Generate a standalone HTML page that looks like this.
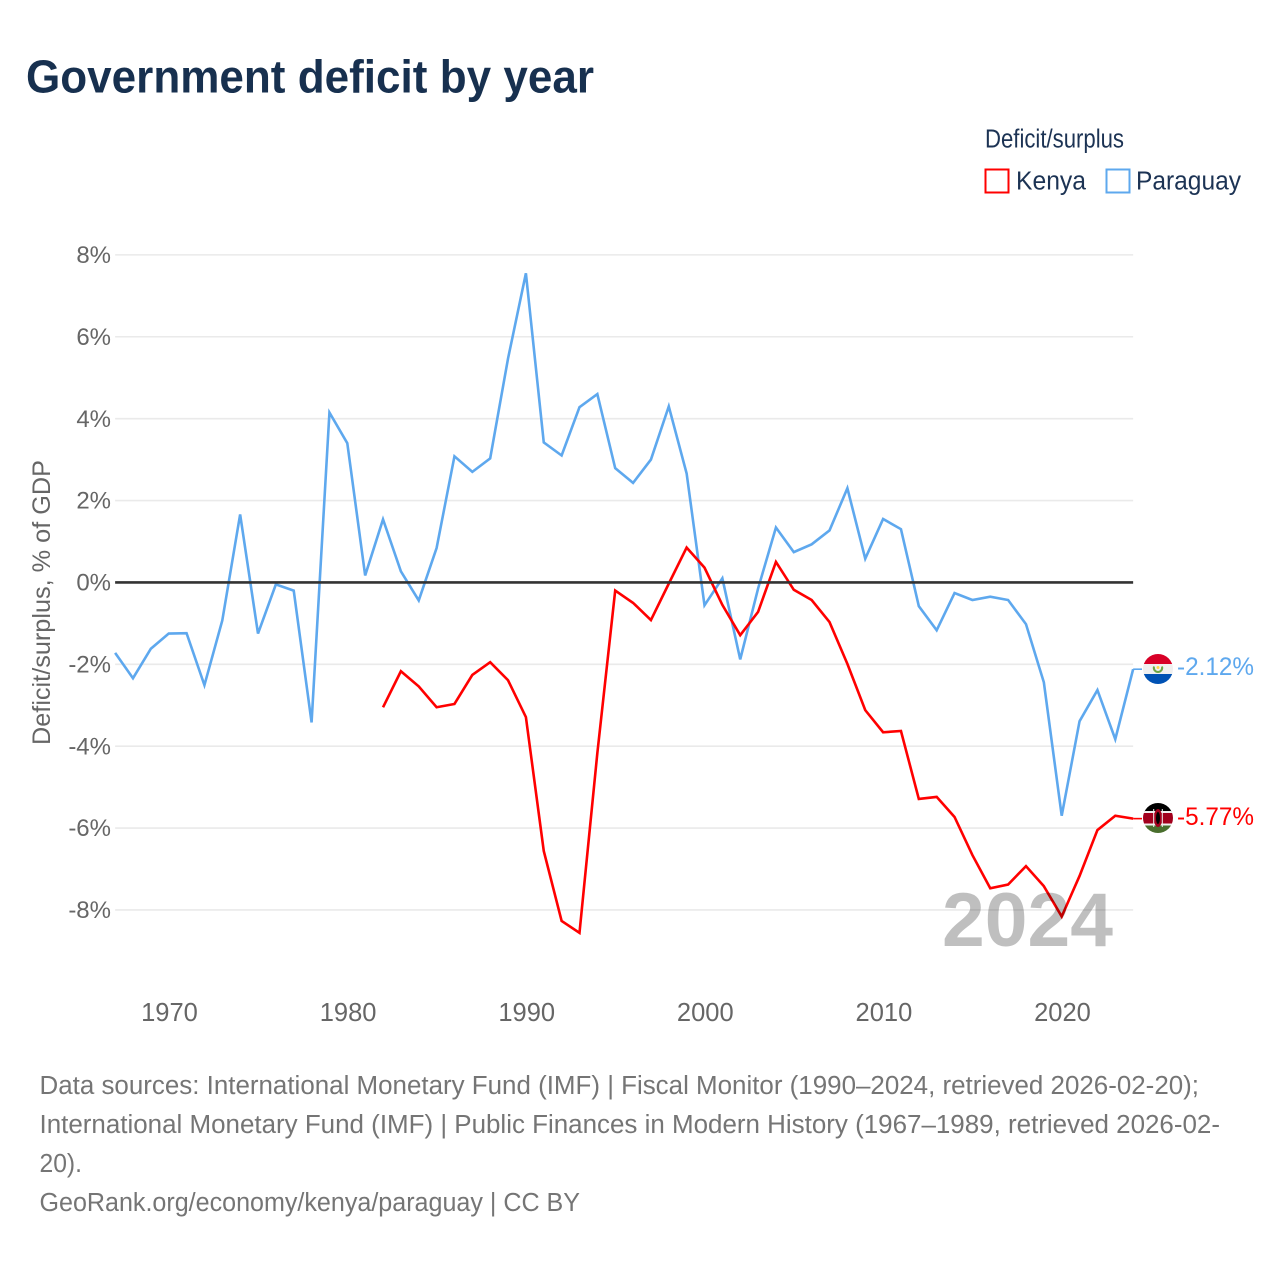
<!DOCTYPE html>
<html lang="en">
<head>
<meta charset="utf-8">
<title>Government deficit by year</title>
<style>
html,body{margin:0;padding:0;background:#fff;}
svg{display:block;font-family:"Liberation Sans",sans-serif;}
</style>
</head>
<body>
<svg id="chart" xmlns="http://www.w3.org/2000/svg" width="1280" height="1280" viewBox="0 0 1280 1280">
  <defs>
    <clipPath id="clip-py"><circle cx="1158" cy="669" r="15"/></clipPath>
    <clipPath id="clip-ke"><circle cx="1158" cy="818" r="15"/></clipPath>
  </defs>
  <rect x="0" y="0" width="1280" height="1280" fill="#fff"/>
  <text x="26" y="92.5" font-size="46" font-weight="700" fill="#17304f" textLength="568" lengthAdjust="spacingAndGlyphs">Government deficit by year</text>

  <g>
    <text x="985" y="147.5" font-size="25.5" fill="#1c3354" textLength="139" lengthAdjust="spacingAndGlyphs">Deficit/surplus</text>
    <g>
      <rect x="985.5" y="169.5" width="23" height="23" fill="none" stroke="#ff0000" stroke-width="2"/>
      <text x="1016" y="189.5" font-size="25.5" fill="#1c3354" textLength="70" lengthAdjust="spacingAndGlyphs">Kenya</text>
    </g>
    <g>
      <rect x="1106.5" y="169.5" width="23" height="23" fill="none" stroke="#5ea8ee" stroke-width="2"/>
      <text x="1136" y="189.5" font-size="25.5" fill="#1c3354" textLength="105" lengthAdjust="spacingAndGlyphs">Paraguay</text>
    </g>
  </g>

  <text transform="translate(50,745) rotate(-90)" x="0" y="0" font-size="25" fill="#666" textLength="285" lengthAdjust="spacingAndGlyphs">Deficit/surplus, % of GDP</text>

  <g id="grid"></g>
  <g id="yticks"></g>
  <g id="xticks"></g>
  <g id="series"></g>
  <g id="zero"></g>

  <text x="942" y="946" font-size="76" font-weight="700" fill="#000" fill-opacity="0.25" textLength="171" lengthAdjust="spacingAndGlyphs">2024</text>

  <g clip-path="url(#clip-py)">
    <rect x="1143" y="654" width="30" height="10" fill="#d80027"/>
    <rect x="1143" y="664" width="30" height="10" fill="#f0f0f0"/>
    <rect x="1143" y="674" width="30" height="10" fill="#0052b4"/>
    <path d="M1154 666.5a4.2 4.2 0 1 0 8 0" fill="none" stroke="#6da544" stroke-width="2"/>
    <circle cx="1158" cy="667.5" r="1.5" fill="#ffda44"/>
  </g>
  <g clip-path="url(#clip-ke)">
    <rect x="1143" y="803" width="30" height="9" fill="#000"/>
    <rect x="1143" y="811" width="30" height="2.2" fill="#f0f0f0"/>
    <rect x="1143" y="813" width="30" height="10.5" fill="#a2001d"/>
    <rect x="1143" y="823.5" width="30" height="2.2" fill="#f0f0f0"/>
    <rect x="1143" y="825.5" width="30" height="8" fill="#496e2d"/>
    <ellipse cx="1158" cy="818" rx="4.2" ry="9" fill="#a2001d"/>
    <ellipse cx="1158" cy="818" rx="2" ry="6" fill="#000"/>
    <rect x="1153.2" y="809" width="1" height="18" fill="#f0f0f0"/>
    <rect x="1161.8" y="809" width="1" height="18" fill="#f0f0f0"/>
  </g>

  <text id="label-py" x="1177" y="675" font-size="25" fill="#5ea8ee" textLength="77" lengthAdjust="spacingAndGlyphs">-2.12%</text>
  <text id="label-ke" x="1177" y="825" font-size="25" fill="#ff0000" textLength="77" lengthAdjust="spacingAndGlyphs">-5.77%</text>

  <g font-size="25.5" fill="#757575">
    <text x="39.5" y="1094" textLength="1159.5" lengthAdjust="spacingAndGlyphs">Data sources: International Monetary Fund (IMF) | Fiscal Monitor (1990–2024, retrieved 2026-02-20);</text>
    <text x="39.5" y="1133" textLength="1180.5" lengthAdjust="spacingAndGlyphs">International Monetary Fund (IMF) | Public Finances in Modern History (1967–1989, retrieved 2026-02-</text>
    <text x="39.5" y="1172" textLength="42.5" lengthAdjust="spacingAndGlyphs">20).</text>
    <text x="39.5" y="1211" textLength="540.5" lengthAdjust="spacingAndGlyphs">GeoRank.org/economy/kenya/paraguay | CC BY</text>
  </g>
</svg>
<script>
const yTicks = [8, 6, 4, 2, 0, -2, -4, -6, -8];
const xTicks = [1970, 1980, 1990, 2000, 2010, 2020];
const paraguayStartYear = 1967;
const paraguayValues = [
  -1.72, -2.34, -1.62, -1.25, -1.24, -2.51, -0.93, 1.66, -1.25, -0.05,
  -0.2, -3.42, 4.15, 3.4, 0.17, 1.54, 0.27, -0.44, 0.84, 3.08,
  2.7, 3.03, 5.47, 7.55, 3.42, 3.1, 4.28, 4.6, 2.79, 2.43,
  3.0, 4.3, 2.66, -0.56, 0.1, -1.88, -0.15, 1.34, 0.74, 0.93,
  1.27, 2.3, 0.58, 1.55, 1.3, -0.58, -1.17, -0.26, -0.43, -0.35,
  -0.43, -1.02, -2.44, -5.7, -3.39, -2.63, -3.83, -2.12
];
const kenyaStartYear = 1982;
const kenyaValues = [
  -3.05, -2.17, -2.54, -3.05, -2.97, -2.26, -1.95, -2.39, -3.29, -6.56,
  -8.27, -8.56, -4.17, -0.2, -0.5, -0.92, -0.03, 0.85, 0.36, -0.55,
  -1.29, -0.72, 0.5, -0.18, -0.43, -0.97, -1.99, -3.12, -3.66, -3.63,
  -5.29, -5.24, -5.73, -6.66, -7.47, -7.38, -6.93, -7.42, -8.16, -7.17,
  -6.05, -5.7, -5.77
];

const NS = 'http://www.w3.org/2000/svg';
function xScale(year) { return 168.7 + (year - 1970) * 17.86; }
function yScale(v) { return 582.4 - v * 40.94; }
function xLabel(year) { return xScale(year) + 0.8; }
const plotLeft = xScale(1967);
const plotRight = xScale(2024);

function pathFor(startYear, values) {
  return values.map(function (v, i) {
    return (i ? 'L' : 'M') + xScale(startYear + i).toFixed(2) + ' ' + yScale(v).toFixed(2);
  }).join('');
}

const grid = document.getElementById('grid');
const yGroup = document.getElementById('yticks');
yTicks.forEach(function (t) {
  if (t !== 0) {
    const line = document.createElementNS(NS, 'line');
    
    
    line.setAttribute('x1', plotLeft);
    line.setAttribute('x2', plotRight);
    line.setAttribute('y1', yScale(t));
    line.setAttribute('y2', yScale(t));
    line.setAttribute('stroke', '#eaeaea');
    line.setAttribute('stroke-width', '1.6');
    grid.appendChild(line);
  }
  const label = document.createElementNS(NS, 'text');
  
  
  label.setAttribute('x', 111);
  label.setAttribute('y', yScale(t) + 8.2);
  label.setAttribute('text-anchor', 'end');
  label.setAttribute('font-size', '24');
  label.setAttribute('fill', '#666');
  label.textContent = t + '%';
  yGroup.appendChild(label);
});

const xGroup = document.getElementById('xticks');
xTicks.forEach(function (t) {
  const label = document.createElementNS(NS, 'text');
  
  
  label.setAttribute('x', xLabel(t));
  label.setAttribute('y', 1021);
  label.setAttribute('text-anchor', 'middle');
  label.setAttribute('font-size', '25.5');
  label.setAttribute('fill', '#666');
  label.textContent = t;
  xGroup.appendChild(label);
});

const seriesGroup = document.getElementById('series');

const pyLine = document.createElementNS(NS, 'path');


pyLine.setAttribute('d', pathFor(paraguayStartYear, paraguayValues));
pyLine.setAttribute('fill', 'none');
pyLine.setAttribute('stroke', '#5ea8ee');
pyLine.setAttribute('stroke-width', '2.6');
pyLine.setAttribute('stroke-linejoin', 'miter');
seriesGroup.appendChild(pyLine);

const keLine = document.createElementNS(NS, 'path');


keLine.setAttribute('d', pathFor(kenyaStartYear, kenyaValues));
keLine.setAttribute('fill', 'none');
keLine.setAttribute('stroke', '#ff0000');
keLine.setAttribute('stroke-width', '2.6');
keLine.setAttribute('stroke-linejoin', 'miter');
seriesGroup.appendChild(keLine);

const pyLast = paraguayValues[paraguayValues.length - 1];
const keLast = kenyaValues[kenyaValues.length - 1];

const pyConnector = document.createElementNS(NS, 'line');


pyConnector.setAttribute('x1', plotRight);
pyConnector.setAttribute('x2', 1142);
pyConnector.setAttribute('y1', yScale(pyLast));
pyConnector.setAttribute('y2', yScale(pyLast));
pyConnector.setAttribute('stroke', '#5ea8ee');
pyConnector.setAttribute('stroke-width', '1.6');
seriesGroup.appendChild(pyConnector);

const keConnector = document.createElementNS(NS, 'line');


keConnector.setAttribute('x1', plotRight);
keConnector.setAttribute('x2', 1142);
keConnector.setAttribute('y1', yScale(keLast));
keConnector.setAttribute('y2', yScale(keLast));
keConnector.setAttribute('stroke', '#ff0000');
keConnector.setAttribute('stroke-width', '1.6');
seriesGroup.appendChild(keConnector);

const zeroLine = document.createElementNS(NS, 'line');


zeroLine.setAttribute('x1', plotLeft);
zeroLine.setAttribute('x2', plotRight);
zeroLine.setAttribute('y1', yScale(0));
zeroLine.setAttribute('y2', yScale(0));
zeroLine.setAttribute('stroke', '#333');
zeroLine.setAttribute('stroke-width', '2.6');
document.getElementById('zero').appendChild(zeroLine);

document.getElementById('label-py').textContent = pyLast.toFixed(2) + '%';
document.getElementById('label-ke').textContent = keLast.toFixed(2) + '%';
</script>
</body>
</html>
